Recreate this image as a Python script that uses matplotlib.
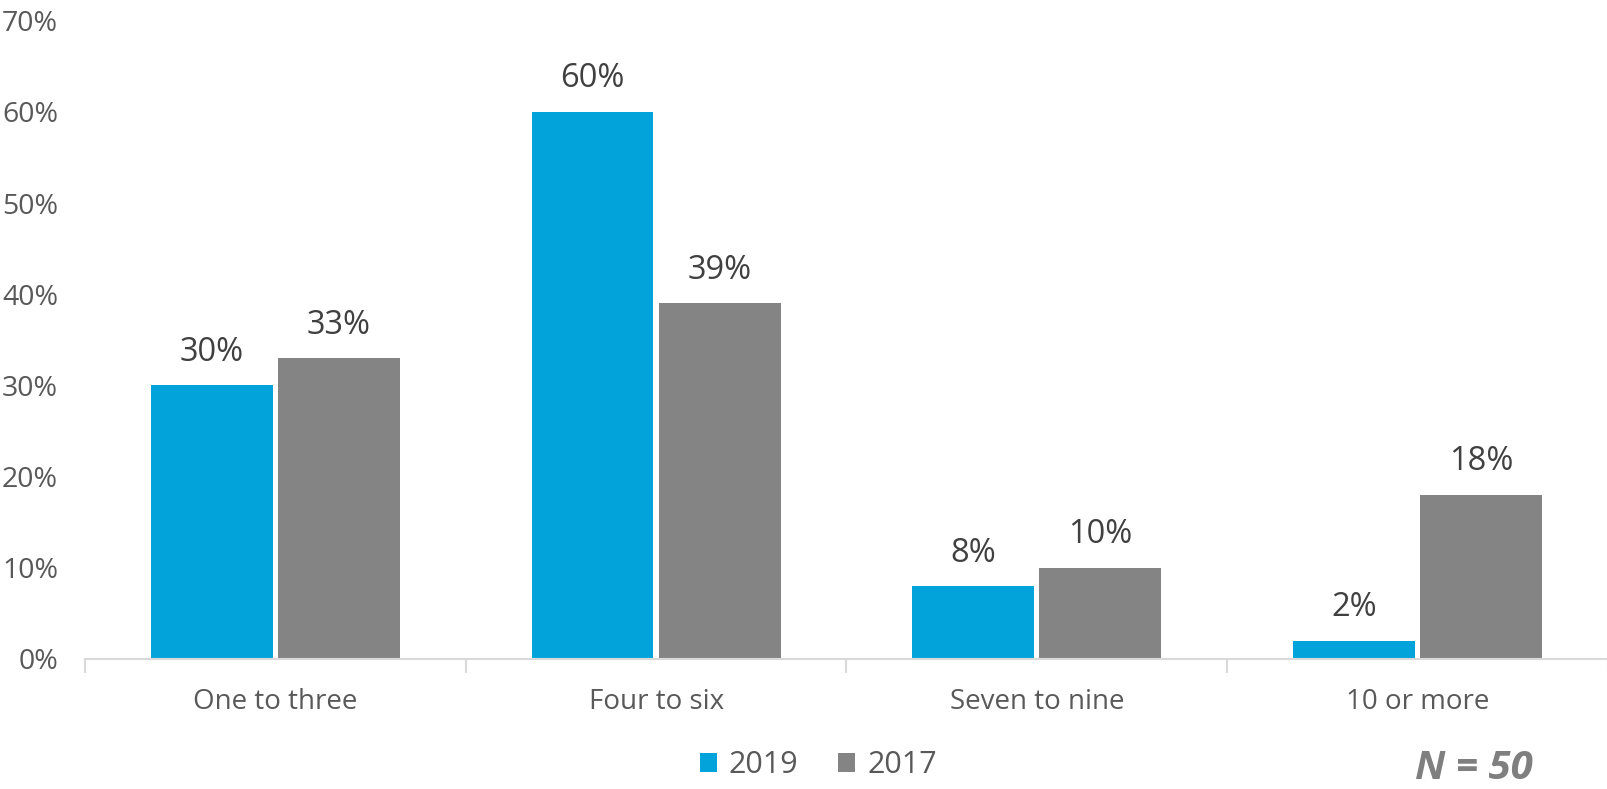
import numpy as np
import matplotlib
matplotlib.use("Agg")
import matplotlib.pyplot as plt
from matplotlib.ticker import FixedLocator

categories = ["One to three", "Four to six", "Seven to nine", "10 or more"]
values_2019 = [30, 60, 8, 2]
values_2017 = [33, 39, 10, 18]
series_names = ["2019", "2017"]
yticks = [0, 10, 20, 30, 40, 50, 60, 70]

blue = "#02A3DA"
grey = "#838483"

plt.rcParams['font.family'] = ['Open Sans', 'DejaVu Sans']

fig = plt.figure(figsize=(16.08, 7.89), dpi=100)
ax = fig.add_axes([0.0529, 0.1648, 0.947, 0.809])

x = np.arange(len(categories))
w = 0.32
off = 0.167
b1 = ax.bar(x - off, values_2019, w, color=blue, label=series_names[0])
b2 = ax.bar(x + off, values_2017, w, color=grey, label=series_names[1])

for bars, vals in ((b1, values_2019), (b2, values_2017)):
    for r, v in zip(bars, vals):
        ax.text(r.get_x() + r.get_width() / 2, v + 1.8, f"{v}%",
                ha="center", va="bottom", fontsize=23.5, color="#404040")

ax.set_xlim(-0.5, len(categories) - 0.5)
ax.set_ylim(0, 70)
ax.set_yticks(yticks)
ax.set_yticklabels([f"{t}%" for t in yticks])
ax.tick_params(axis="y", length=0, pad=19.5, labelsize=20.5, labelcolor="#595959")

ax.set_xticks(x)
ax.set_xticklabels(categories)
ax.tick_params(axis="x", which="major", length=0, pad=21, labelsize=20,
               labelcolor="#595959")
ax.xaxis.set_minor_locator(FixedLocator(np.arange(-0.5, len(categories), 1.0)))
ax.tick_params(axis="x", which="minor", length=10, width=1.5, color="#D9D9D9")

for s in ("top", "right", "left"):
    ax.spines[s].set_visible(False)
ax.spines["bottom"].set_color("#D9D9D9")
ax.spines["bottom"].set_linewidth(1.5)

leg = fig.legend(loc="center", bbox_to_anchor=(0.509, 0.03), ncol=2,
                 frameon=False, fontsize=22, handlelength=0.55, handleheight=0.55,
                 handletextpad=0.4, columnspacing=1.3)
for t in leg.get_texts():
    t.set_color("#595959")

fig.text(0.9535, 0.026, "N = 50", ha="right", va="center", fontsize=29,
         fontweight="bold", fontstyle="italic", color="#7F7F7F")

fig.savefig("out.png", dpi=100)
